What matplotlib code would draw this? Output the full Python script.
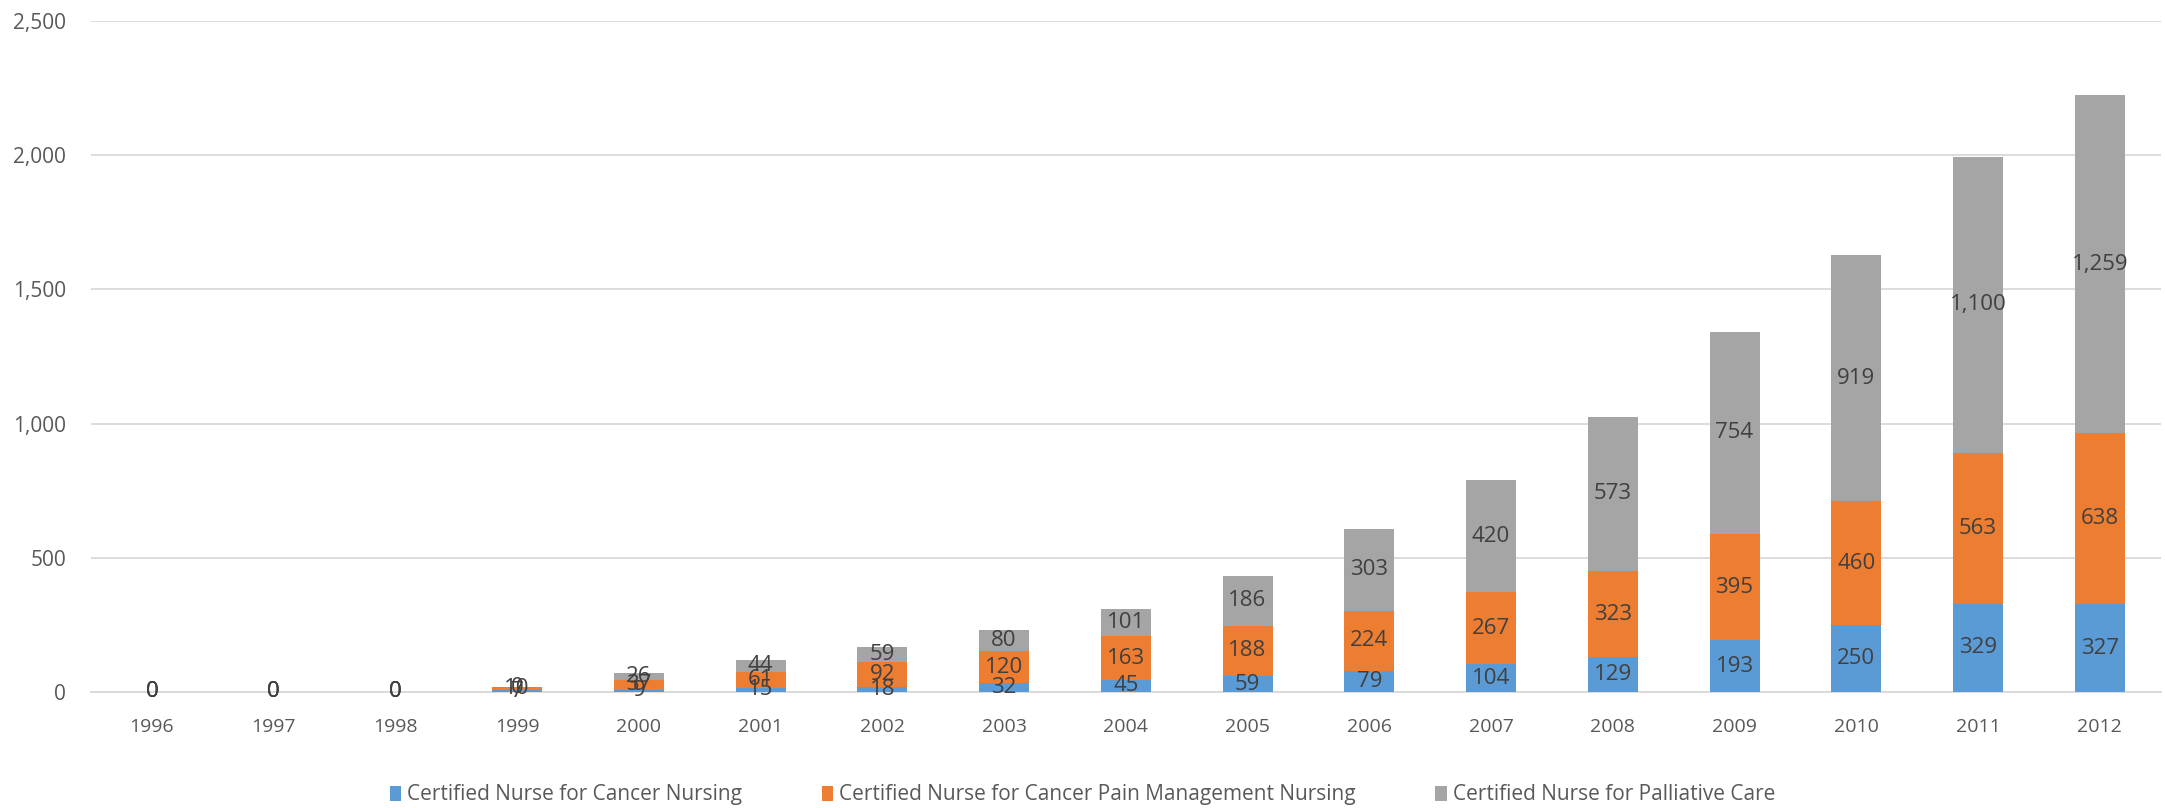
import numpy as np
import matplotlib
matplotlib.use("Agg")
from matplotlib import pyplot as plt
from matplotlib.ticker import FuncFormatter

# Certified nurses by year
years = [1996, 1997, 1998, 1999, 2000, 2001, 2002, 2003, 2004,
         2005, 2006, 2007, 2008, 2009, 2010, 2011, 2012]
cancer_nursing = [0, 0, 0, 7, 9, 15, 18, 32, 45, 59, 79, 104, 129, 193, 250, 329, 327]
pain_management = [0, 0, 0, 10, 37, 61, 92, 120, 163, 188, 224, 267, 323, 395, 460, 563, 638]
palliative_care = [0, 0, 0, 0, 26, 44, 59, 80, 101, 186, 303, 420, 573, 754, 919, 1100, 1259]

series_names = ["Certified Nurse for Cancer Nursing",
                "Certified Nurse for Cancer Pain Management Nursing",
                "Certified Nurse for Palliative Care"]
colors = ["#5b9bd5", "#ed7d31", "#a5a5a5"]

plt.rcParams['font.family'] = ['Open Sans', 'DejaVu Sans']

fig = plt.figure(figsize=(21.65, 8.08), dpi=100)
ax = fig.add_axes([0.042, 0.1436, 0.956, 0.8304])

x = np.arange(len(years))
width = 0.41
bottom = np.zeros(len(years))
for vals, name, c in zip([cancer_nursing, pain_management, palliative_care], series_names, colors):
    vals = np.array(vals, dtype=float)
    ax.bar(x, vals, width, bottom=bottom, color=c, label=name, zorder=3)
    # value labels in the middle of each segment
    for xi, b, v in zip(x, bottom, vals):
        ax.text(xi, b + v / 2, f"{int(v):,}", ha='center', va='center',
                fontsize=16, color='#404040', zorder=4)
    bottom += vals

ax.set_xlim(-0.5, len(years) - 0.5)
ax.set_ylim(0, 2500)
ax.set_yticks(np.arange(0, 2501, 500))
ax.yaxis.set_major_formatter(FuncFormatter(lambda v, p: f"{int(v):,}"))
ax.set_xticks(x)
ax.set_xticklabels([str(y) for y in years])

ax.grid(axis='y', color='#d9d9d9', linewidth=1.3, zorder=0)
for s in ['top', 'right', 'left']:
    ax.spines[s].set_visible(False)
ax.spines['bottom'].set_color('#d9d9d9')
ax.spines['bottom'].set_linewidth(1.3)
ax.tick_params(axis='both', length=0, labelcolor='#595959')
ax.tick_params(axis='x', pad=19, labelsize=14)
ax.tick_params(axis='y', pad=18, labelsize=15)

fig.legend(loc='lower center', bbox_to_anchor=(0.5, -0.02), ncol=3, frameon=False,
           fontsize=15, labelcolor='#595959', handlelength=0.55, handleheight=0.75,
           handletextpad=0.3, columnspacing=3.8)

fig.savefig("out.png", dpi=100)
